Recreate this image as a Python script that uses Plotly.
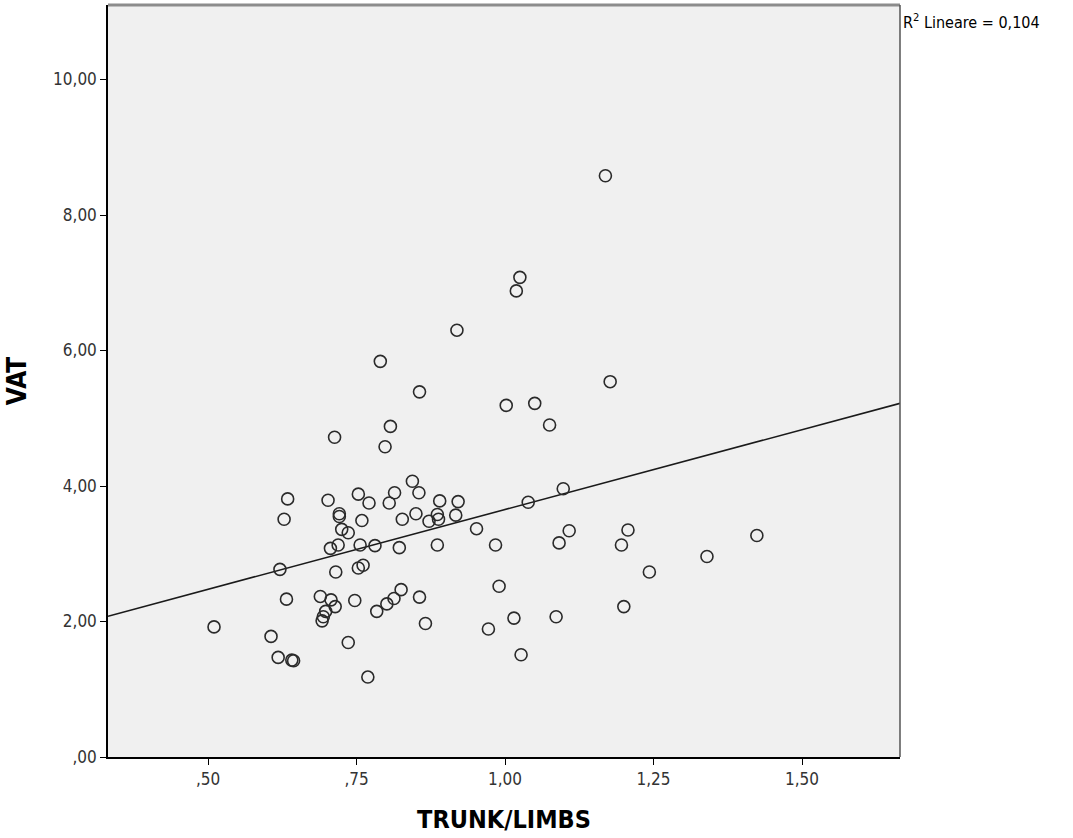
import numpy as np
import plotly.graph_objects as go

trunk_limbs = [
    0.856, 0.807, 0.713, 0.798, 0.844, 0.855, 0.634, 0.702, 0.753, 0.771,
    0.814, 0.805, 0.890, 0.921, 0.628, 0.721, 0.721, 0.759, 0.827, 0.850,
    0.886, 0.872, 0.888, 0.917, 0.725, 0.736, 0.952, 0.706, 0.719, 0.756,
    0.781, 0.822, 0.886, 0.621, 0.715, 0.753, 0.761, 0.632, 0.689, 0.707,
    0.714, 0.747, 0.784, 0.801, 0.813, 0.825, 0.856, 0.698, 0.694, 0.692,
    0.510, 0.606, 0.866, 0.736, 0.618, 0.641, 0.644, 0.769, 0.972,
    1.177, 1.002, 1.050, 1.075, 1.098, 1.039, 0.984, 1.108, 1.091, 1.207,
    1.196, 1.424, 1.340, 1.243, 0.990, 1.200, 1.086, 1.015, 1.027,
    1.169, 1.025, 1.019, 0.919, 0.790,
]
vat = [
    5.39, 4.88, 4.72, 4.58, 4.07, 3.90, 3.81, 3.79, 3.88, 3.75,
    3.90, 3.75, 3.78, 3.77, 3.51, 3.59, 3.55, 3.49, 3.51, 3.59,
    3.58, 3.48, 3.51, 3.57, 3.36, 3.31, 3.37, 3.08, 3.13, 3.13,
    3.12, 3.09, 3.13, 2.77, 2.73, 2.79, 2.83, 2.33, 2.37, 2.32,
    2.22, 2.31, 2.15, 2.26, 2.34, 2.47, 2.36, 2.15, 2.07, 2.01,
    1.92, 1.78, 1.97, 1.69, 1.47, 1.43, 1.42, 1.18, 1.89,
    5.54, 5.19, 5.22, 4.90, 3.96, 3.76, 3.13, 3.34, 3.16, 3.35,
    3.13, 3.27, 2.96, 2.73, 2.52, 2.22, 2.07, 2.05, 1.51,
    8.58, 7.08, 6.88, 6.30, 5.84,
]

x_tick_vals = [0.5, 0.75, 1.0, 1.25, 1.5]
x_tick_text = [",50", ",75", "1,00", "1,25", "1,50"]
y_tick_vals = [0, 2, 4, 6, 8, 10]
y_tick_text = [",00", "2,00", "4,00", "6,00", "8,00", "10,00"]

x_range = [0.3315, 1.665]
y_range = [0, 11.1]
r2_label = "0,104"

slope, intercept = np.polyfit(trunk_limbs, vat, 1)
fit_x = np.array(x_range)
fit_y = intercept + slope * fit_x

fig = go.Figure()
fig.add_trace(go.Scatter(
    x=fit_x, y=fit_y, mode="lines",
    line=dict(color="#1a1a1a", width=1.6),
    hoverinfo="skip", showlegend=False,
))
fig.add_trace(go.Scatter(
    x=trunk_limbs, y=vat, mode="markers",
    marker=dict(symbol="circle-open", size=12, color="#2a2a2a",
                line=dict(width=1.6, color="#2a2a2a")),
    showlegend=False,
))

narrow = "Liberation Sans Narrow, DejaVu Sans Condensed, Arial Narrow, sans-serif"

fig.update_layout(
    width=1073, height=838,
    margin=dict(l=108, r=173, t=5, b=81, pad=0),
    paper_bgcolor="white",
    plot_bgcolor="#f0f0f0",
    font=dict(family=narrow, size=12, color="#333333"),
    xaxis=dict(
        range=x_range, tickvals=x_tick_vals, ticktext=x_tick_text,
        showgrid=False, zeroline=False,
        showline=True, linecolor="#000000", linewidth=1.5,
        ticks="outside", ticklen=6, tickcolor="#000000", tickwidth=1.2,
        tickfont=dict(family=narrow, size=17, color="#333333"),
        title=dict(text="<b>TRUNK/LIMBS</b>", standoff=22,
                   font=dict(family=narrow, size=25, color="#000000")),
    ),
    yaxis=dict(
        range=y_range, tickvals=y_tick_vals, ticktext=y_tick_text,
        showgrid=False, zeroline=False,
        showline=True, linecolor="#000000", linewidth=1.5,
        ticks="outside", ticklen=6, tickcolor="#000000", tickwidth=1.2,
        tickfont=dict(family=narrow, size=17, color="#333333"),
        title=dict(text="<b>VAT</b>", standoff=19,
                   font=dict(family=narrow, size=26, color="#000000")),
    ),
    shapes=[
        dict(type="line", xref="paper", yref="paper", x0=0, x1=1, y0=1, y1=1,
             line=dict(color="#8c8c8c", width=3)),
        dict(type="line", xref="paper", yref="paper", x0=1, x1=1, y0=0, y1=1,
             line=dict(color="#555555", width=1.5)),
    ],
    annotations=[
        dict(text="R<sup>2</sup> Lineare = " + r2_label,
             xref="paper", yref="paper", x=1.0, y=1.0,
             xanchor="left", yanchor="top", xshift=1, yshift=-4,
             showarrow=False, font=dict(family=narrow, size=16, color="#000000")),
    ],
)

fig.write_html("out.html", config={"displayModeBar": False},
               post_script="document.body.style.margin='0';document.body.style.overflow='hidden';")
